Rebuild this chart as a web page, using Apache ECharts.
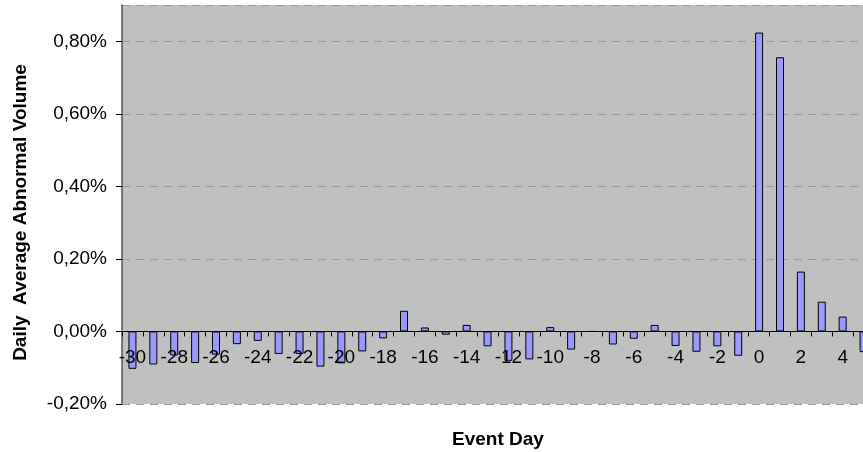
<!DOCTYPE html>
<html>
<head>
    <meta charset="utf-8" />
    <title></title>
    <script src="https://cdn.jsdelivr.net/npm/echarts@6/dist/echarts.min.js"></script>
    <style>
        html, body { margin: 0; padding: 0; background: #fff; overflow: hidden; }
    </style>
</head>
<body>
    <div id="divChart" style="width:863px;height:452px;"></div>
    <script>
        // event days shown on the axis
        let days = [-30, -29, -28, -27, -26, -25, -24, -23, -22, -21, -20, -19, -18, -17, -16, -15, -14, -13,
            -12, -11, -10, -9, -8, -7, -6, -5, -4, -3, -2, -1, 0, 1, 2, 3, 4, 5];
        // daily average abnormal volume, in percent
        let volume = [-0.103, -0.091, -0.066, -0.087, -0.064, -0.035, -0.026, -0.062, -0.062, -0.097, -0.088, -0.055, -0.019, 0.057, 0.011, -0.009, 0.018, -0.041,
            -0.081, -0.077, 0.012, -0.050, 0, -0.036, -0.020, 0.018, -0.040, -0.056, -0.041, -0.067, 0.824, 0.756, 0.165, 0.082, 0.041, -0.057];
        let yMin = -0.2, yMax = 0.9, yStep = 0.2;

        let fmtPct = function (v) {
            if (Math.abs(v) < 1e-9) v = 0;
            return v.toFixed(2).replace('.', ',') + '%';
        };

        function InitChart() {
            var font = 'Liberation Sans, Arial, sans-serif';
            var option = {
                backgroundColor: '#ffffff',
                animation: false,
                grid: {
                    show: true,
                    left: 122,
                    right: -11,
                    top: 5,
                    bottom: 48,
                    outerBoundsMode: 'none',
                    containLabel: false,
                    backgroundColor: '#C0C0C0',
                    borderWidth: 0
                },
                xAxis: {
                    type: 'category',
                    z: 3,
                    data: days.map(String),
                    name: 'Event Day',
                    nameLocation: 'middle',
                    nameGap: 26,
                    nameTextStyle: { fontFamily: font, fontSize: 19, fontWeight: 'bold', color: '#000' },
                    axisLine: { onZero: true, lineStyle: { color: '#000', width: 1 } },
                    axisTick: { show: true, interval: 0, length: 5, lineStyle: { color: '#000' } },
                    axisLabel: {
                        interval: 1,
                        margin: -56,   // labels sit just under the zero line
                        color: '#000',
                        fontFamily: font,
                        fontSize: 19
                    },
                    splitLine: { show: false }
                },
                yAxis: {
                    type: 'value',
                    min: yMin,
                    max: yMax,
                    interval: yStep,
                    name: 'Daily  Average Abnormal Volume',
                    nameLocation: 'middle',
                    nameGap: 92,
                    nameTextStyle: { fontFamily: font, fontSize: 19, fontWeight: 'bold', color: '#000', padding: [0, 16, 0, 0] },
                    axisLine: { show: true, lineStyle: { color: '#555', width: 1.5 } },
                    axisTick: { show: true, length: 6, lineStyle: { color: '#000' } },
                    axisLabel: {
                        margin: 15,
                        color: '#000',
                        fontFamily: font,
                        fontSize: 19,
                        showMaxLabel: false,
                        formatter: fmtPct
                    },
                    splitLine: {
                        show: true,
                        lineStyle: { color: '#999', type: [8, 6], width: 1 }
                    }
                },
                series: [{
                    type: 'bar',
                    data: volume,
                    barWidth: 8,
                    itemStyle: {
                        color: '#9999FF',
                        borderColor: '#000',
                        borderWidth: 1
                    }
                }]
            };
            echarts.init(document.getElementById('divChart')).setOption(option);
        }
        InitChart();
    </script>
</body>
</html>
